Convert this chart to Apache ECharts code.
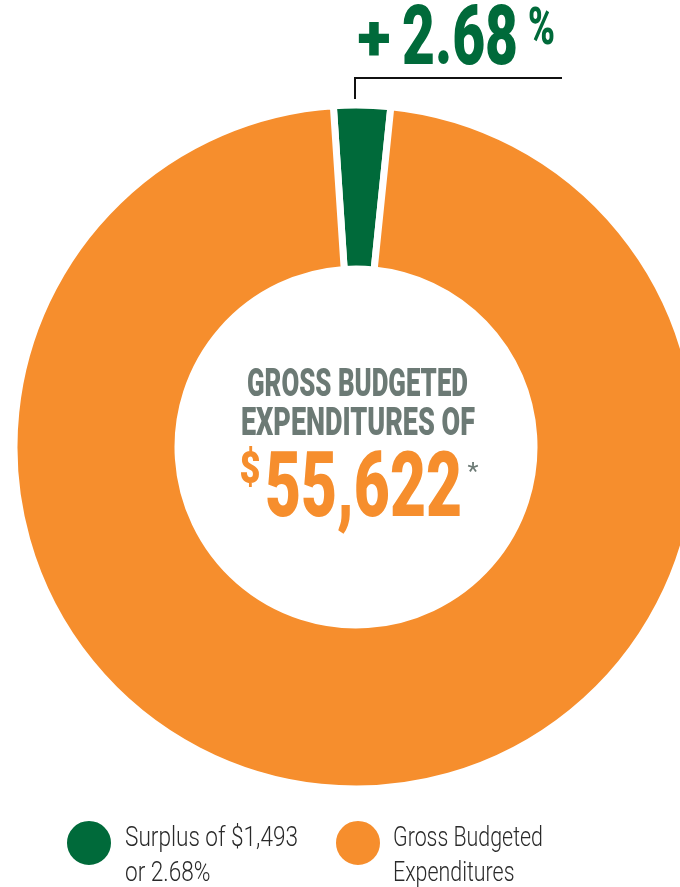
<!DOCTYPE html>
<html>
<head>
<meta charset="utf-8">
<script src="https://cdn.jsdelivr.net/npm/echarts@6/dist/echarts.min.js"></script>
<style>
html,body{margin:0;padding:0;background:#fff;}
#chart{width:680px;height:887px;}
</style>
</head>
<body>
<div id="chart"></div>
<script>
// ---- data ----
var categories = ["Surplus", "Gross Budgeted Expenditures"];
var seriesValues = [2.68, 97.32];
var legendLabels = [["Surplus of $1,493", "or 2.68%"], ["Gross Budgeted", "Expenditures"]];
var headlineSign = "+";
var headlineValue = "2.68";
var headlineUnit = "%";
var centerLines = ["GROSS BUDGETED", "EXPENDITURES OF"];
var centerCurrency = "$";
var centerAmount = "55,622";
var centerNote = "*";

// ---- styles ----
var GREEN = "#006a3a", ORANGE = "#f68e2d", GRAY = "#6c7a75";
var colors = [GREEN, ORANGE];

var mctx = document.createElement("canvas").getContext("2d");
function measure(text, fs, weight, family) {
  mctx.font = weight + " " + fs + "px " + family;
  return mctx.measureText(text).width;
}
var FAM = "Roboto";
// condensed text element: anchor x, cap-center y, font size, target width
function ctext(text, cx, cy, fs, targetW, color, weight, align, scaleRef) {
  weight = weight || "900";
  align = align || "center";
  var w = measure(scaleRef || text, fs, weight, FAM);
  return {
    type: "text", x: cx, y: cy + 0.06 * fs, scaleX: targetW / w, silent: true,
    style: { text: text, font: weight + " " + fs + "px " + FAM, fill: color,
             textAlign: align, textVerticalAlign: "middle" }
  };
}

var chart = echarts.init(document.getElementById("chart"), null, {renderer: "canvas"});

function makeLegend(i, left) {
  return {
    data: [categories[i]], left: left, top: 819, padding: 0,
    icon: "circle", itemWidth: 46, itemHeight: 46,
    formatter: function () { return ""; },
    selectedMode: false,
    textStyle: { fontSize: 1 }
  };
}

var LEG_COLOR = "#2a2a2a";
var option = {
  backgroundColor: "#fff",
  animation: false,
  legend: [makeLegend(0, 65), makeLegend(1, 334)],
  series: [{
    type: "pie",
    center: [356, 447],
    radius: [178, 342],
    startAngle: 93.8,
    clockwise: true,
    label: { show: false },
    labelLine: { show: false },
    emphasis: { disabled: true },
    itemStyle: { borderColor: "#fff", borderWidth: 7 },
    data: categories.map(function (c, i) {
      return { name: c, value: seriesValues[i], itemStyle: { color: colors[i] } };
    })
  }],
  graphic: [
    ctext(headlineSign, 374, 40, 64, 33, GREEN),
    ctext(headlineValue, 460, 38, 84, 116, GREEN),
    ctext(headlineUnit, 541.5, 27.5, 52, 27, GREEN),
    {
      type: "polyline", silent: true,
      shape: { points: [[355, 99], [355, 78], [562, 78]] },
      style: { stroke: "#111", lineWidth: 2, fill: null }
    },
    ctext(centerLines[0], 357.5, 384, 39, 221, GRAY),
    ctext(centerLines[1], 358, 423.5, 38, 234, GRAY),
    ctext(centerCurrency, 250, 469, 44, 21, ORANGE),
    ctext(centerAmount, 363.5, 487.5, 91, 197, ORANGE),
    ctext(centerNote, 473, 472, 24, 11, GRAY, "normal"),
    ctext(legendLabels[0][0], 125, 837, 28, 173, LEG_COLOR, "300", "left"),
    ctext(legendLabels[0][1], 125, 872, 28, 173, LEG_COLOR, "300", "left", legendLabels[0][0]),
    ctext(legendLabels[1][0], 393, 837, 28, 150, LEG_COLOR, "300", "left"),
    ctext(legendLabels[1][1], 393, 872, 28, 150, LEG_COLOR, "300", "left", legendLabels[1][0])
  ]
};
chart.setOption(option);
</script>
</body>
</html>
